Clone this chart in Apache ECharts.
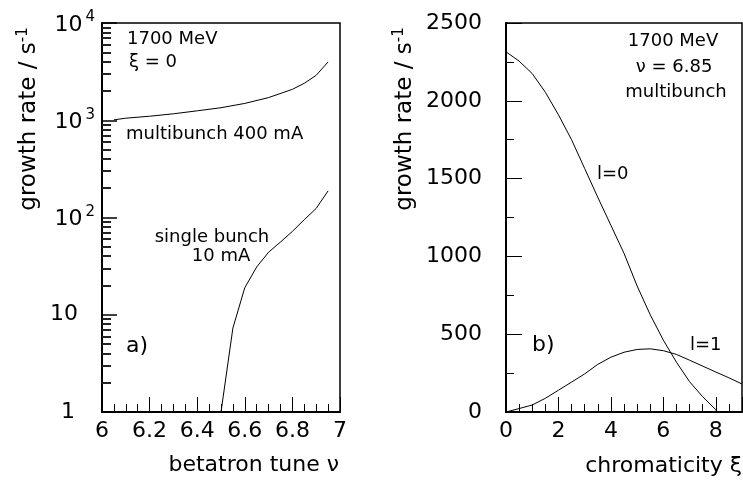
<!DOCTYPE html>
<html>
<head>
<meta charset="utf-8">
<script src="https://cdn.jsdelivr.net/npm/echarts@6/dist/echarts.min.js"></script>
<style>
html,body{margin:0;padding:0;background:#fff;}
#c{width:743px;height:480px;}
</style>
</head>
<body>
<div id="c"></div>
<script>
// ---- Panel a) : growth rate vs betatron tune (log scale) ----
const tuneMulti = [6.05, 6.1, 6.2, 6.3, 6.4, 6.5, 6.6, 6.7, 6.8, 6.85, 6.9, 6.95];
const rateMulti = [1010, 1050, 1100, 1165, 1250, 1345, 1490, 1710, 2080, 2400, 2900, 3980];
const tuneSingle = [6.5, 6.55, 6.6, 6.65, 6.7, 6.75, 6.8, 6.85, 6.9, 6.95];
const rateSingle = [1, 7.3, 19, 31, 44, 56, 72, 95, 124, 188];
const tuneTicks = ['6', '6.2', '6.4', '6.6', '6.8', '7'];
const logDecades = [1, 10, 100, 1000, 10000];

// ---- Panel b) : growth rate vs chromaticity ----
const chrom = [0, 0.5, 1, 1.5, 2, 2.5, 3, 3.5, 4, 4.5, 5, 5.5, 6, 6.5, 7, 7.5, 8, 8.05];
const rateL0 = [2315, 2255, 2175, 2055, 1910, 1750, 1565, 1380, 1200, 1020, 810, 625, 462, 320, 195, 98, 15, 0];
const chromL1 = [0, 0.5, 1, 1.5, 2, 2.5, 3, 3.5, 4, 4.5, 5, 5.5, 6, 6.5, 7, 7.5, 8, 8.5, 9];
const rateL1 = [0, 22, 45, 88, 140, 192, 245, 306, 352, 384, 402, 406, 394, 370, 333, 295, 257, 220, 180];

// minor log ticks 2..9 per decade
const logMinor = [];
for (let d = 1; d < 10000; d *= 10) for (let k = 2; k <= 9; k++) logMinor.push(k * d);

const FF = '"DejaVu Sans", sans-serif';
const pairs = (xs, ys) => xs.map((x, i) => [x, ys[i]]);

const chart = echarts.init(document.getElementById('c'), null, {renderer: 'canvas'});

const supMap = {100: '2', 1000: '3', 10000: '4'};
const option = {
  animation: false,
  backgroundColor: '#fff',
  grid: [
    {left: 102, top: 23, width: 238, height: 389, show: true, borderColor: '#000', borderWidth: 1.5, backgroundColor: 'transparent'},
    {left: 506, top: 23, width: 236, height: 389, show: true, borderColor: '#000', borderWidth: 1.5, backgroundColor: 'transparent'}
  ],
  xAxis: [
    {
      gridIndex: 0, type: 'value', min: 6, max: 7, interval: 0.2,
      axisLine: {show: true, onZero: false, lineStyle: {color: '#000', width: 2}},
      axisTick: {show: true, inside: true, length: 15, lineStyle: {color: '#000', width: 1}},
      minorTick: {show: true, splitNumber: 4, length: 8, lineStyle: {color: '#000', width: 1}},
      splitLine: {show: false}, minorSplitLine: {show: false},
      axisLabel: {color: '#000', fontSize: 22, fontFamily: FF, margin: 8,
        formatter: v => { const s = (Math.round(v * 10) / 10).toString(); return tuneTicks.indexOf(s) >= 0 ? s : ''; }}
    },
    {
      gridIndex: 1, type: 'value', min: 0, max: 9, interval: 2,
      axisLine: {show: true, onZero: false, lineStyle: {color: '#000', width: 2}},
      axisTick: {show: true, inside: true, length: 15, lineStyle: {color: '#000', width: 1}},
      minorTick: {show: true, splitNumber: 4, length: 8, lineStyle: {color: '#000', width: 1}},
      splitLine: {show: false}, minorSplitLine: {show: false},
      axisLabel: {color: '#000', fontSize: 22, fontFamily: FF, margin: 8, showMaxLabel: false,
        formatter: v => String(v)}
    }
  ],
  yAxis: [
    {
      gridIndex: 0, type: 'log', logBase: 10, min: 1, max: 10000,
      axisLine: {show: true, onZero: false, lineStyle: {color: '#000', width: 2}},
      axisTick: {show: true, inside: true, length: 15, lineStyle: {color: '#000', width: 1.5}, customValues: logDecades},
      splitLine: {show: false},
      axisLabel: {
        color: '#000', fontSize: 22, fontFamily: FF, margin: 7, customValues: logDecades,
        formatter: v => {
          const r = Math.round(v);
          if (r === 1) return '{p1|1}';
          if (r === 10) return '{p10|10}';
          return '{b|10}{s|' + supMap[r] + '}';
        },
        rich: {
          b: {fontSize: 22, fontFamily: FF, color: '#000', lineHeight: 26, verticalAlign: 'bottom'},
          s: {fontSize: 15, fontFamily: FF, color: '#000', lineHeight: 15, verticalAlign: 'top', padding: [0, 0, 0, 3]},
          p1: {fontSize: 22, fontFamily: FF, color: '#000', padding: [0, 20, 0, 0]},
          p10: {fontSize: 22, fontFamily: FF, color: '#000', padding: [0, 17, 0, 0]}
        }
      }
    },
    {
      gridIndex: 0, type: 'log', logBase: 10, min: 1, max: 10000, position: 'left',
      axisLine: {show: false},
      axisTick: {show: true, inside: true, length: 9, lineStyle: {color: '#222', width: 2}, customValues: logMinor},
      axisLabel: {show: false},
      splitLine: {show: false}
    },
    {
      gridIndex: 1, type: 'value', min: 0, max: 2500, interval: 500,
      axisLine: {show: true, onZero: false, lineStyle: {color: '#000', width: 2}},
      axisTick: {show: true, inside: true, length: 16, lineStyle: {color: '#000', width: 1}},
      minorTick: {show: true, splitNumber: 2, length: 8, lineStyle: {color: '#000', width: 1}},
      splitLine: {show: false}, minorSplitLine: {show: false},
      axisLabel: {color: '#000', fontSize: 22, fontFamily: FF, margin: 24, formatter: v => String(v)}
    }
  ],
  series: [
    {type: 'line', xAxisIndex: 0, yAxisIndex: 0, data: pairs(tuneMulti, rateMulti), showSymbol: false, symbol: 'none', lineStyle: {color: '#000', width: 1}, silent: true},
    {type: 'line', xAxisIndex: 0, yAxisIndex: 0, data: pairs(tuneSingle, rateSingle), showSymbol: false, symbol: 'none', lineStyle: {color: '#000', width: 1}, silent: true},
    {type: 'line', xAxisIndex: 1, yAxisIndex: 2, data: pairs(chrom, rateL0), showSymbol: false, symbol: 'none', lineStyle: {color: '#000', width: 1}, silent: true},
    {type: 'line', xAxisIndex: 1, yAxisIndex: 2, data: pairs(chromL1, rateL1), showSymbol: false, symbol: 'none', lineStyle: {color: '#000', width: 1}, silent: true}
  ],
  graphic: []
};

function txt(x, y, text, size, align) {
  return {
    type: 'text', x: x, y: y, silent: true,
    style: {
      text: text, fill: '#000', fontSize: size, fontFamily: FF,
      textAlign: align || 'left', textVerticalAlign: 'middle', verticalAlign: 'middle'
    }
  };
}
const supRich = {
  s: {fontSize: 15, fontFamily: FF, fill: '#000', color: '#000', verticalAlign: 'top', lineHeight: 12},
  n: {fontSize: 23, fontFamily: FF, fill: '#000', color: '#000', lineHeight: 27}
};
function ytitle(x) {
  return {type: 'text', x: x, y: 119, rotation: Math.PI / 2, silent: true,
    style: {text: '{n|growth rate / s}{s|-1}', rich: supRich, fill: '#000', fontSize: 23, fontFamily: FF,
      textAlign: 'center', textVerticalAlign: 'middle', verticalAlign: 'middle'}};
}
option.graphic = [
  ytitle(29), ytitle(405),
  txt(339, 465, 'betatron tune ν', 22, 'right'),
  txt(742, 466, 'chromaticity ξ', 22, 'right'),
  txt(127, 39, '1700 MeV', 18, 'left'),
  txt(129, 62, 'ξ = 0', 18, 'left'),
  txt(126, 134, 'multibunch 400 mA', 18, 'left'),
  txt(212, 237, 'single bunch', 18, 'center'),
  txt(221, 256, '10 mA', 18, 'center'),
  txt(126, 346, 'a)', 22, 'left'),
  txt(673, 41, '1700 MeV', 18, 'center'),
  txt(674, 67, 'ν = 6.85', 18, 'center'),
  txt(676, 92, 'multibunch', 18, 'center'),
  txt(597, 174, 'l=0', 18, 'left'),
  txt(690, 345, 'l=1', 18, 'left'),
  txt(532, 345, 'b)', 22, 'left')
];

chart.setOption(option);
</script>
</body>
</html>
